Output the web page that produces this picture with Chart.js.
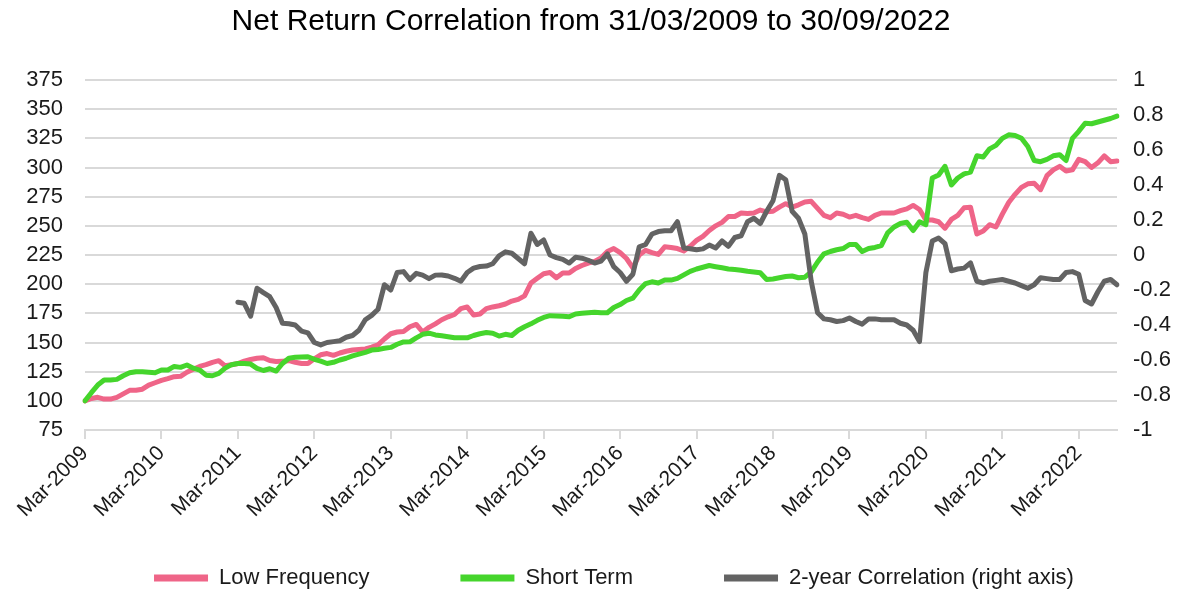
<!DOCTYPE html>
<html>
<head>
<meta charset="utf-8">
<script src="https://cdn.jsdelivr.net/npm/chart.js@4.4.0/dist/chart.umd.min.js"></script>
<style>
  body { margin: 0; background: #fff; }
</style>
</head>
<body>
<canvas id="netReturnChart" width="1182" height="592"></canvas>
<script>
// monthly, Mar-2009 .. Sep-2022
const monthNames = ['Jan','Feb','Mar','Apr','May','Jun','Jul','Aug','Sep','Oct','Nov','Dec'];
const months = [];
for (let i = 0; i < 163; i++) {
  const m = (2 + i) % 12;
  const y = 2009 + Math.floor((2 + i) / 12);
  months.push(monthNames[m] + '-' + y);
}

const lowFrequency = [
  100,102,103,101.5,101.5,103,106,109,109,110,
  113.5,115.5,117.5,119,120.7,121,124.5,127,129.5,131,
  133,134.4,130,131,132,134,135.5,136.5,137,134.5,
  133.7,134,134.4,133,132,132,136,139.5,140.5,139,
  141,142.5,143.5,144,144.5,146,148,153,157.5,159,
  159.5,163.5,165.5,159,163,166,169.5,172,174,179,
  180.5,173.5,174.4,179,180.5,181.5,183,185.5,187,190,
  201,205,209,210,205.5,209.5,209.5,213.5,216,218,
  219.5,222.5,228,230.5,227,222,214,225,229,227,
  225.5,232,231.5,230.5,228.5,232.5,237.5,241,246,250,
  253,258,258,261,260.5,261,263.5,262,262.5,266,
  269,266,268,270.5,271,265,259,257,261,260,
  257.5,259,257,255.5,259,261,261,261,263,264.5,
  267.5,264,255,255,253.5,248,255.5,259,265.5,266,
  243,245.5,251,249,260,270,277,283,286,286.5,
  281,293,298,301,297,298,307,305,300,304,
  310,305,305.5
];

const shortTerm = [
  100,107,113.5,117.8,117.8,118.4,121.5,124,125,125,
  124.5,124,126.4,126.4,129.5,128.7,130.7,128,126.4,122,
  121.5,123.5,128,131,132,132,131.5,127.8,126,127.5,
  125.5,132,136.5,137.3,137.6,137.8,135.6,134,132,133,
  135,136.5,138.5,140,141.5,143.5,144,145,145.8,148.5,
  150.5,150.6,154,157,158,156.5,155.8,155,154,154,
  154,156,157.5,158.5,158,155.5,157,156,160.5,163.5,
  166,169,171.5,173,172.8,172.5,172,174.5,175,175.5,
  176,175.5,175.5,180,182.5,186,188,195,200.5,202,
  201,203.5,203.5,205,208,211,213,214.5,216,215,
  214,213,212.5,212,211,210.5,209.8,204,204.5,205.5,
  206.5,207,205.5,206,210.5,219,226,228,229.5,230.5,
  234,234,228,230.5,231.5,233,244,249,252,253,
  246,253.5,251,291,293.5,301,285,291,294.5,296,
  310,309,316,319,325,328,327.5,325,318,306,
  305,307,310,311,306,325,331,338,337.5,339,
  340.5,342,344
];

// 2-year rolling correlation, first value Mar-2011
const correlation = [
  null,null,null,null,null,null,null,null,null,null,null,null,
  null,null,null,null,null,null,null,null,null,null,null,null,
  -0.27,-0.276,-0.35,-0.19,-0.215,-0.238,-0.30,-0.39,-0.393,-0.40,
  -0.435,-0.445,-0.50,-0.514,-0.50,-0.495,-0.49,-0.47,-0.46,-0.43,
  -0.37,-0.345,-0.31,-0.17,-0.2,-0.1,-0.095,-0.14,-0.105,-0.115,
  -0.135,-0.115,-0.114,-0.12,-0.133,-0.15,-0.1,-0.075,-0.066,-0.063,
  -0.05,-0.005,0.018,0.01,-0.02,-0.05,0.124,0.06,0.086,0.0,
  -0.015,-0.025,-0.046,-0.013,-0.018,-0.03,-0.046,-0.035,0.006,-0.067,
  -0.1,-0.15,-0.11,0.047,0.06,0.12,0.134,0.139,0.139,0.19,
  0.04,0.036,0.03,0.035,0.057,0.04,0.08,0.05,0.10,0.11,
  0.19,0.21,0.18,0.25,0.31,0.455,0.43,0.25,0.21,0.12,
  -0.15,-0.33,-0.365,-0.37,-0.38,-0.375,-0.36,-0.38,-0.395,-0.365,
  -0.365,-0.37,-0.37,-0.37,-0.39,-0.40,-0.43,-0.495,-0.1,0.08,
  0.097,0.065,-0.09,-0.08,-0.075,-0.045,-0.15,-0.16,-0.15,-0.145,
  -0.14,-0.15,-0.16,-0.175,-0.19,-0.17,-0.13,-0.135,-0.14,-0.14,
  -0.1,-0.095,-0.11,-0.26,-0.28,-0.21,-0.15,-0.14,-0.17
];

const seriesNames = ['Low Frequency', 'Short Term', '2-year Correlation (right axis)'];
const seriesColors = ['#ef6588', '#45d52c', '#636363'];
// wide gaps between legend entries, like the original
const legendGap = '\u2002\u2002\u2002\u2002\u2002\u2002\u2002\u2002';

Chart.defaults.font.family = '"Liberation Sans", Arial, sans-serif';
Chart.defaults.color = '#1a1a1a';

const gridColor = '#d9d9d9';

const ctx = document.getElementById('netReturnChart');
new Chart(ctx, {
  type: 'line',
  data: {
    labels: months,
    datasets: [{
      label: seriesNames[0],
      data: lowFrequency,
      borderColor: seriesColors[0],
      backgroundColor: seriesColors[0],
      yAxisID: 'y',
      order: 3
    }, {
      label: seriesNames[1],
      data: shortTerm,
      borderColor: seriesColors[1],
      backgroundColor: seriesColors[1],
      yAxisID: 'y',
      order: 2
    }, {
      label: seriesNames[2],
      data: correlation,
      borderColor: seriesColors[2],
      backgroundColor: seriesColors[2],
      yAxisID: 'y1',
      order: 1
    }]
  },
  options: {
    responsive: false,
    animation: false,
    devicePixelRatio: 1,
    elements: {
      point: { radius: 0 },
      line: { borderWidth: 5, tension: 0, borderJoinStyle: 'round', borderCapStyle: 'round' }
    },
    layout: { padding: { top: 0, left: 0, right: 0, bottom: -7 } },
    plugins: {
      title: {
        display: true,
        text: 'Net Return Correlation from 31/03/2009 to 30/09/2022',
        color: '#000',
        font: { size: 30, weight: 'normal' },
        padding: { top: 4, bottom: 40 }
      },
      legend: {
        position: 'bottom',
        align: 'end',
        labels: {
          boxWidth: 54,
          boxHeight: 7,
          padding: 3,
          color: '#1a1a1a',
          font: { size: 22 },
          sort: (a, b) => a.datasetIndex - b.datasetIndex,
          generateLabels: function (chart) {
            const items = Chart.defaults.plugins.legend.labels.generateLabels(chart);
            items.forEach(item => {
              item.lineWidth = 0;
              item.text = item.text + legendGap + (item.datasetIndex === 2 ? '\u2002 ' : '');
            });
            return items;
          }
        }
      },
      tooltip: { enabled: false }
    },
    scales: {
      x: {
        offset: false,
        grid: { display: true, drawOnChartArea: false, drawTicks: true, tickLength: 9, color: gridColor, lineWidth: 2 },
        border: { display: true, color: gridColor, width: 2 },
        ticks: { autoSkip: false, minRotation: 45, maxRotation: 45, font: { size: 21 }, padding: 2 },
        afterBuildTicks: function (scale) {
          scale.ticks = scale.ticks.filter(t => t.value % 12 === 0);
        },
        afterFit: function (scale) { scale.height = 134; }
      },
      y: {
        position: 'left',
        min: 75,
        max: 375,
        grid: { color: gridColor, lineWidth: 2, drawTicks: false },
        border: { display: false },
        ticks: { stepSize: 25, autoSkip: false, font: { size: 22 }, padding: 22 },
        afterFit: function (scale) { scale.width = 85; }
      },
      y1: {
        position: 'right',
        min: -1,
        max: 1,
        grid: { display: false, drawTicks: false },
        border: { display: false },
        ticks: {
          stepSize: 0.2,
          autoSkip: false,
          font: { size: 22 },
          padding: 16,
          callback: v => String(Math.round(v * 10) / 10)
        },
        afterFit: function (scale) { scale.width = 65; }
      }
    }
  }
});
</script>
</body>
</html>
